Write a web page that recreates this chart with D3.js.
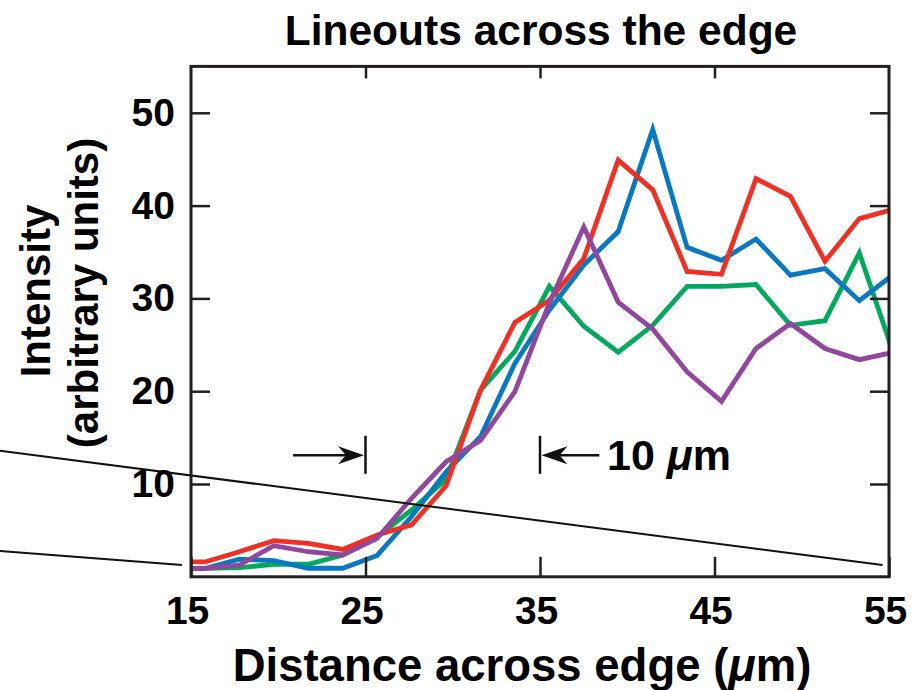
<!DOCTYPE html>
<html>
<head>
<meta charset="utf-8">
<script src="https://cdn.jsdelivr.net/npm/d3@7"></script>
<style>
  body { margin: 0; background: #fff; }
  text { font-family: "Liberation Sans", Arial, sans-serif; font-weight: bold; fill: #000; }
</style>
</head>
<body>
<div id="svgContainer"></div>
<script>
var width = 913,
    height = 690;

// sample positions (um) and the four lineouts
var distance = [13.83, 15.8, 17.77, 19.75, 21.72, 23.7, 25.67, 27.64, 29.62, 31.59, 33.56,
                35.54, 37.51, 39.48, 41.46, 43.43, 45.4, 47.38, 49.35, 51.33, 53.3, 55.27];
var redLine    = [1.6, 1.6, 2.7, 3.9, 3.6, 2.95, 4.5, 5.6, 9.8, 20.1, 27.4, 29.8, 34.3, 44.9, 41.7, 32.9, 32.6, 42.9, 41.0, 34.0, 38.6, 39.6];
var blueLine   = [0.9, 0.9, 1.9, 1.75, 0.92, 0.92, 2.3, 6.5, 11.3, 15.1, 23.0, 28.75, 33.6, 37.2, 48.2, 35.5, 34.1, 36.4, 32.5, 33.2, 29.75, 32.6];
var greenLine  = [0.9, 0.9, 0.98, 1.35, 1.35, 2.35, 4.3, 7.2, 10.5, 20.1, 24.3, 31.3, 27.0, 24.2, 27.1, 31.3, 31.3, 31.5, 27.1, 27.6, 34.9, 24.0];
var purpleLine = [0.8, 0.9, 1.27, 3.35, 2.7, 2.35, 4.15, 8.46, 12.4, 14.7, 19.95, 29.5, 37.7, 29.6, 26.7, 22.1, 18.9, 24.6, 27.3, 24.6, 23.4, 24.2];

var seriesNames = ["green", "blue", "red", "purple"];
var seriesColors = ["#00a85e", "#0a78c0", "#ee3124", "#90479c"];

var xTicks = [15, 25, 35, 45, 55];
var yTicks = [10, 20, 30, 40, 50];

// annotation: the 10 um marker and the two guide lines (data units)
var markerX = [25, 35];
var markerSpan = [11.1, 15.2];
var arrowY = 13.1;
var arrowTails = [20.85, 38.4];
var guideLines = [
    [[4.04, 13.59], [54.63, 1.27]],
    [[4.04, 2.78], [14.48, 1.27]]
];

var x = d3.scaleLinear().domain([15, 55]).range([191, 889]);
var y = d3.scaleLinear().domain([0, 55]).range([576.8, 66.4]);

var svg = d3.select("#svgContainer").append("svg")
    .attr("width", width)
    .attr("height", height)
    .style("display", "block");

svg.append("defs").append("clipPath")
    .attr("id", "plotClip")
    .append("rect")
    .attr("x", x(15)).attr("y", y(55))
    .attr("width", x(55) - x(15)).attr("height", y(0) - y(55));

var lineData = {
    green: greenLine, blue: blueLine, red: redLine, purple: purpleLine
};

var line = d3.line()
    .x((d, i) => x(distance[i]))
    .y(d => y(d));

svg.append("g")
    .attr("clip-path", "url(#plotClip)")
    .selectAll("path")
    .data(seriesNames)
    .enter().append("path")
    .attr("fill", "none")
    .attr("stroke", (d, i) => seriesColors[i])
    .attr("stroke-width", 4.8)
    .attr("stroke-linejoin", "miter")
    .attr("d", d => line(lineData[d]));

// guide lines
svg.append("g")
    .selectAll("line")
    .data(guideLines)
    .enter().append("line")
    .attr("x1", d => x(d[0][0])).attr("y1", d => y(d[0][1]))
    .attr("x2", d => x(d[1][0])).attr("y2", d => y(d[1][1]))
    .attr("stroke", "#111")
    .attr("stroke-width", 2);

// axes
var axisColor = "#231f20";

var gx = svg.append("g")
    .attr("transform", "translate(0," + y(0) + ")")
    .call(d3.axisBottom(x).tickValues(xTicks).tickSize(-20).tickPadding(20));
gx.selectAll("text").attr("font-size", 39).attr("dx", "-0.1em");

var gy = svg.append("g")
    .attr("transform", "translate(" + x(15) + ",0)")
    .call(d3.axisLeft(y).tickValues(yTicks).tickSize(-19).tickPadding(16));
gy.selectAll("text").attr("font-size", 39);

svg.append("g")
    .attr("transform", "translate(" + x(55) + ",0)")
    .call(d3.axisRight(y).tickValues(yTicks).tickSize(-19).tickFormat(""));

svg.append("g")
    .attr("transform", "translate(0," + y(55) + ")")
    .call(d3.axisTop(x).tickValues([25, 35, 45]).tickSize(-12).tickFormat(""));

svg.selectAll(".domain").remove();
svg.selectAll(".tick line").attr("stroke", axisColor).attr("stroke-width", 2.5);
svg.selectAll(".tick text").attr("fill", "#000").attr("font-family", null);

svg.append("rect")
    .attr("x", x(15)).attr("y", y(55))
    .attr("width", x(55) - x(15)).attr("height", y(0) - y(55))
    .attr("fill", "none")
    .attr("stroke", axisColor)
    .attr("stroke-width", 3);

// 10 um marker
svg.append("g")
    .selectAll("line")
    .data(markerX)
    .enter().append("line")
    .attr("x1", d => x(d)).attr("x2", d => x(d))
    .attr("y1", y(markerSpan[0])).attr("y2", y(markerSpan[1]))
    .attr("stroke", "#111")
    .attr("stroke-width", 2.5);

var arrowHead = (tipX, tipY, dir) => {
    // dir = 1 points right, -1 points left
    var L = 26, W = 9, notch = 8;
    return "M" + tipX + "," + tipY +
        "L" + (tipX - dir * L) + "," + (tipY - W) +
        "L" + (tipX - dir * (L - notch)) + "," + tipY +
        "L" + (tipX - dir * L) + "," + (tipY + W) + "Z";
};

markerX.forEach((mx, i) => {
    var dir = i === 0 ? 1 : -1;
    var tip = x(mx) - dir * 1.5;
    svg.append("line")
        .attr("x1", x(arrowTails[i])).attr("x2", tip - dir * 10)
        .attr("y1", y(arrowY)).attr("y2", y(arrowY))
        .attr("stroke", "#111")
        .attr("stroke-width", 2.5);
    svg.append("path")
        .attr("d", arrowHead(tip, y(arrowY), dir))
        .attr("fill", "#111");
});

var label = svg.append("text")
    .attr("x", 607)
    .attr("y", y(arrowY) + 15)
    .attr("font-size", 43);
label.append("tspan").text("10 ");
label.append("tspan").attr("font-style", "italic").text("\u03bc");
label.append("tspan").text("m");

// titles
svg.append("text")
    .attr("x", 541)
    .attr("y", 45)
    .attr("text-anchor", "middle")
    .attr("font-size", 42.5)
    .text("Lineouts across the edge");

var xTitle = svg.append("text")
    .attr("x", 522)
    .attr("y", 681)
    .attr("text-anchor", "middle")
    .attr("font-size", 45.5);
xTitle.append("tspan").text("Distance across edge (");
xTitle.append("tspan").attr("font-style", "italic").text("\u03bc");
xTitle.append("tspan").text("m)");

svg.append("text")
    .attr("transform", "translate(50,291) rotate(-90)")
    .attr("text-anchor", "middle")
    .attr("font-size", 42)
    .text("Intensity");

svg.append("text")
    .attr("transform", "translate(98,293) rotate(-90)")
    .attr("text-anchor", "middle")
    .attr("font-size", 42)
    .text("(arbitrary units)");
</script>
</body>
</html>
